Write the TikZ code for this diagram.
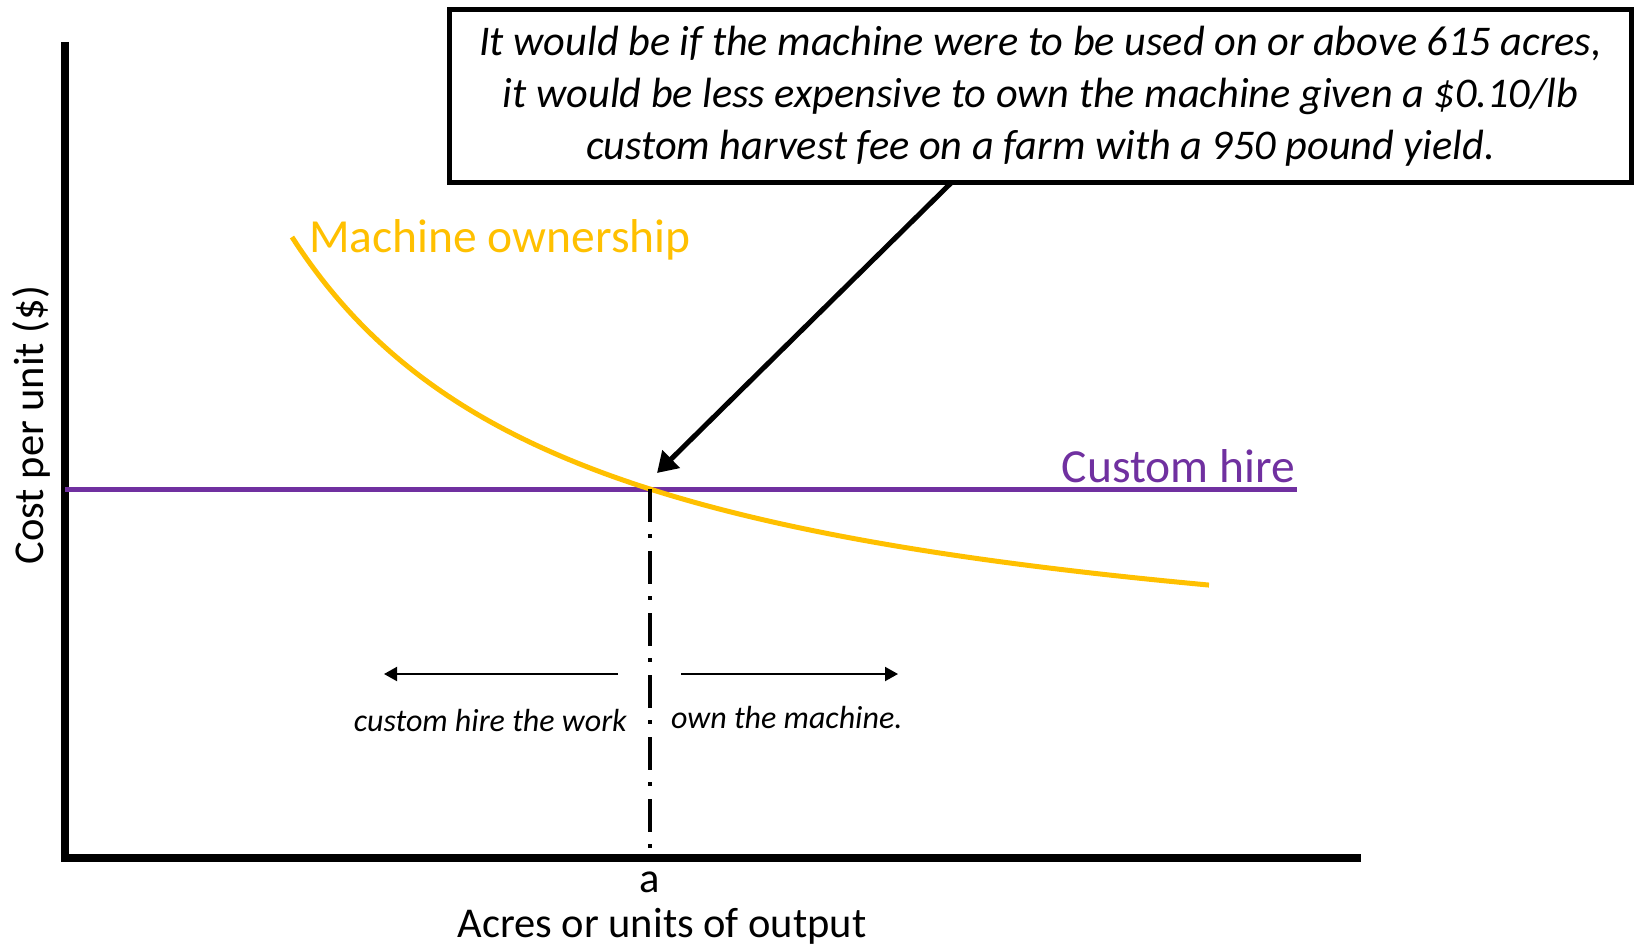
\documentclass[tikz,border=0pt]{standalone}
\usepackage{fontspec}
\setmainfont{Carlito}
\usetikzlibrary{arrows.meta}
\definecolor{ownyellow}{HTML}{FFC000}
\definecolor{hirepurple}{HTML}{7030A0}
\tikzset{
  axisline/.style={line width=8pt, line join=miter},
  bigarrow/.style={line width=5pt, -{Triangle[length=20pt,width=24pt]}},
  smallarrow/.style={line width=2pt, -{Triangle[length=13pt,width=14pt]}},
  dashdot/.style={line width=4pt, dash pattern=on 33pt off 12pt on 4pt off 13pt},
  curvelabel/.style={font=\fontsize{47.5}{56}\selectfont, inner sep=0pt},
  axislabel/.style={font=\fontsize{42.5}{50}\selectfont, inner sep=0pt},
  sidelabel/.style={font=\fontsize{32}{38}\selectfont\itshape, inner sep=0pt},
  notebox/.style={draw, line width=5pt, minimum width=1182pt, minimum height=172pt, align=center, font=\fontsize{42.3}{52}\selectfont\itshape, inner sep=0pt}
}
\begin{document}
\begin{tikzpicture}[x=1pt,y=-1pt]
\useasboundingbox (0,0) rectangle (1637,947);
% axes
\coordinate (ytop) at (65,42);
\coordinate (origin) at (65,858);
\coordinate (xend) at (1361,858);
\draw[axisline] (ytop) -- (origin) -- (xend);
% custom hire line
\coordinate (hl) at (65,489);
\coordinate (hr) at (1297,489);
\draw[hirepurple, line width=5pt] (hl) -- (hr);
% ownership curve
\draw[ownyellow, line width=5pt] plot[domain=292:1209, samples=120, smooth] (\x, {697.4 - 1362.66/((\x+4)/100)});
% dash-dot line
\coordinate (cross) at (650,489);
\coordinate (afoot) at (650,854);
\draw[dashdot] (cross) -- (afoot);
% note box and arrow
\node[notebox] (note) at (1040.5,96) {It would be if the machine were to be used on or above 615 acres,\\ it would be less expensive to own the machine given a \$0.10/lb\\ custom harvest fee on a farm with a 950 pound yield.};
\coordinate (astart) at (952,182);
\coordinate (atip) at (657,473);
\draw[bigarrow] (astart) -- (atip);
% labels
\node[curvelabel, text=ownyellow, anchor=west] (own) at (309,240) {Machine ownership};
\node[curvelabel, text=hirepurple, anchor=east] (hire) at (1295,466) {Custom hire};
% side arrows
\coordinate (la1) at (618,674);
\coordinate (la2) at (384,674);
\coordinate (ra1) at (681,674);
\coordinate (ra2) at (898,674);
\draw[smallarrow] (la1) -- (la2);
\draw[smallarrow] (ra1) -- (ra2);
\node[sidelabel, anchor=east] (lt) at (627,720) {custom hire the work};
\node[sidelabel, anchor=west] (rt) at (671,718) {own the machine.};
% axis labels
\node[axislabel] (alab) at (650,882) {a};
\node[axislabel] (xlab) at (662,926) {Acres or units of output};
\node[axislabel, rotate=90] (ylab) at (31,425) {Cost per unit (\$)};
\end{tikzpicture}
\end{document}
